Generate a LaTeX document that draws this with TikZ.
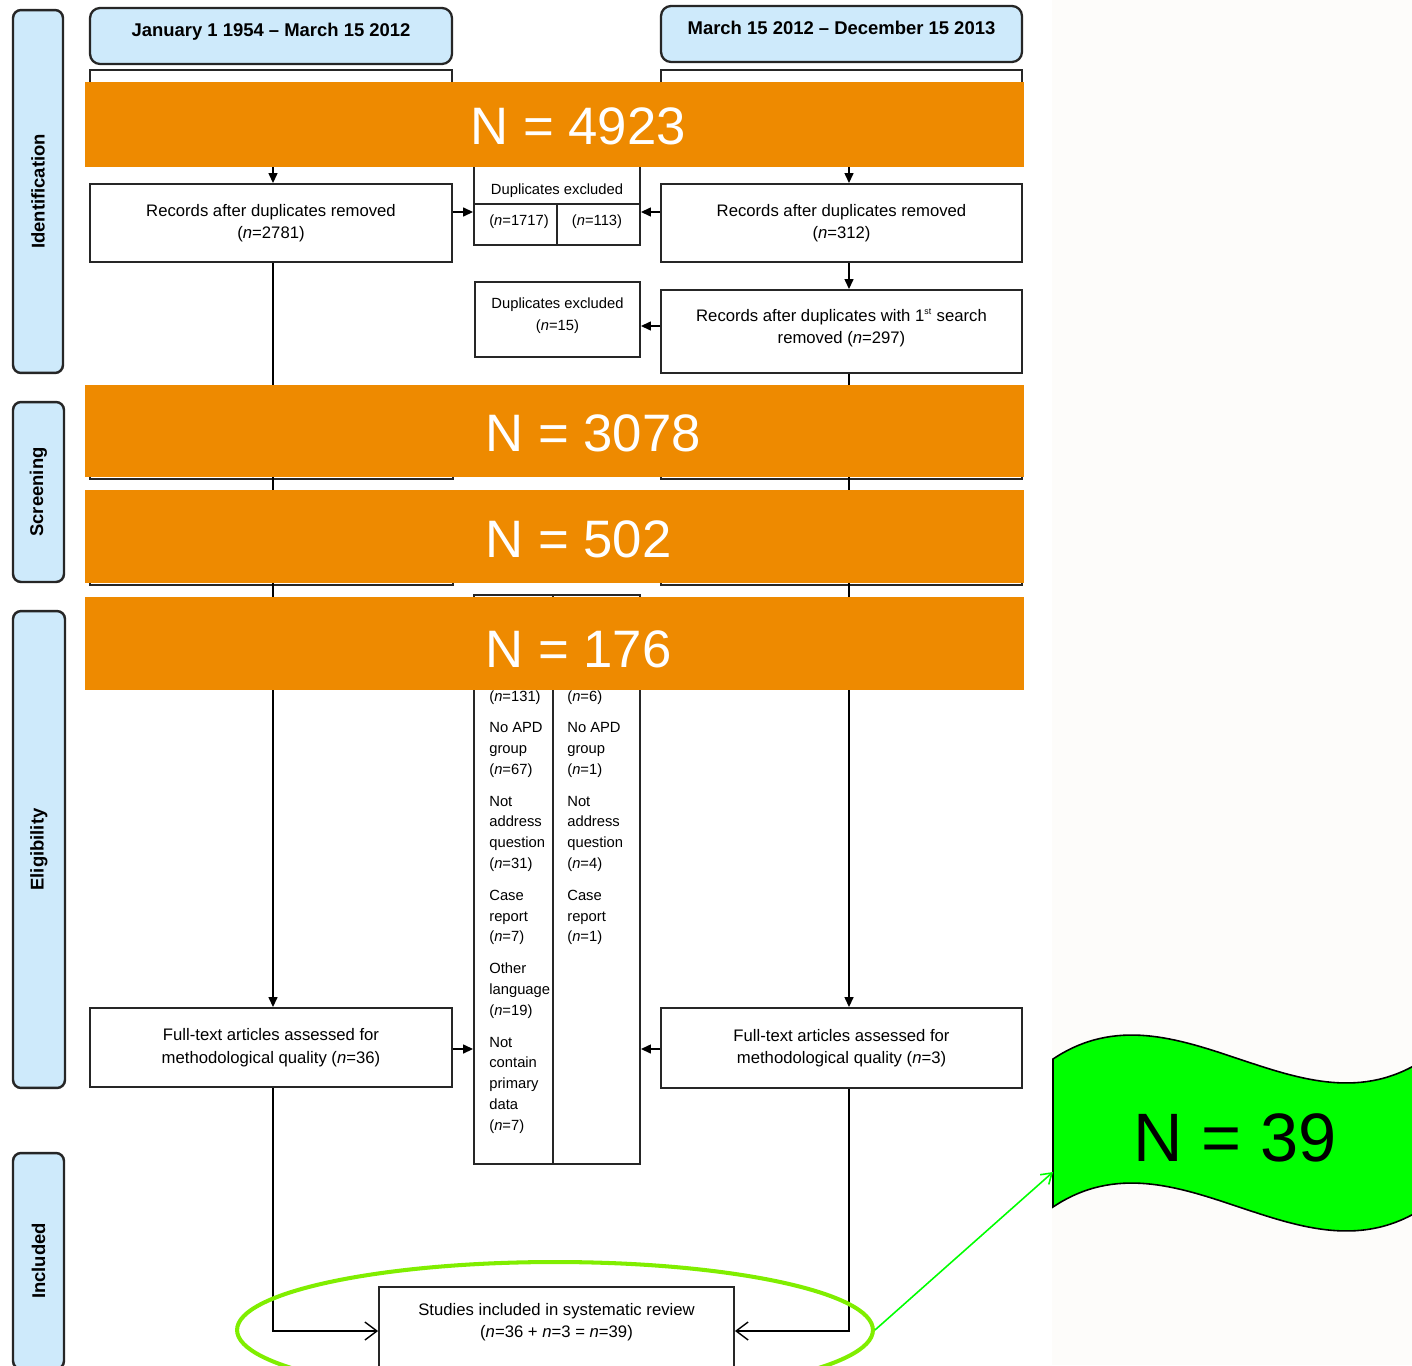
\documentclass[tikz,border=0pt]{standalone}
\usepackage{fontspec}
\setmainfont{Liberation Sans}
\usetikzlibrary{arrows.meta,shapes.geometric}
\definecolor{orng}{RGB}{238,138,0}
\definecolor{lblue}{RGB}{206,234,251}
\definecolor{ellgreen}{RGB}{128,238,0}
\definecolor{flaggreen}{RGB}{0,255,0}
\definecolor{offwhite}{RGB}{253,252,250}
\begin{document}
\begin{tikzpicture}[x=0.02cm,y=-0.02cm,
  box/.style={draw=black!85, line width=1.1pt, fill=white, inner sep=0pt, align=center, font=\fontsize{9.5}{12.8}\selectfont},
  hdr/.style={draw=black!85, line width=1.3pt, fill=lblue, rounded corners=0.2cm, inner sep=0pt, font=\bfseries\fontsize{10.5}{12}\selectfont, text depth=0.25cm},
  side/.style={draw=black!85, line width=1.4pt, fill=lblue, rounded corners=0.16cm, inner sep=0pt, rotate=90, font=\bfseries\fontsize{10.5}{12}\selectfont},
  small/.style={inner sep=0pt, font=\fontsize{8.4}{11.85}\selectfont},
  arr/.style={line width=0.8pt, -{Triangle[length=0.2cm,width=0.18cm]}},
  oarr/.style={line width=0.8pt, -{Straight Barb[length=0.24cm,width=0.36cm]}},
  band/.style={fill=orng},
  bandtxt/.style={text=white, inner sep=0pt, anchor=west, font=\fontsize{30}{30}\selectfont},
]
\useasboundingbox (0,0) rectangle (1412,1365);
\clip (0,0) rectangle (1412,1365);
\fill[white] (0,0) rectangle (1412,1365);
\fill[offwhite] (1052,0) rectangle (1412,1365);

% coordinates for connector lines
\coordinate (lx) at (273,0);
\coordinate (rx) at (849,0);
\coordinate (ya) at (0,212);
\coordinate (yb) at (0,326);
\coordinate (yc) at (0,1049);
\coordinate (yd) at (0,1331);
\coordinate (yh) at (0,204);
\coordinate (dxa) at (557,0);
\coordinate (dxb) at (553,0);

% side labels
\node[side, minimum width=7.26cm, minimum height=1.0cm] (sId) at (38,191.5) {Identification};
\node[side, minimum width=3.6cm, minimum height=1.02cm] (sSc) at (38.5,492) {Screening};
\node[side, minimum width=9.54cm, minimum height=1.04cm] (sEl) at (39,849.5) {Eligibility};
\node[side, minimum width=4.32cm, minimum height=1.02cm] (sIn) at (38.5,1261) {Included};

% headers
\node[hdr, minimum width=7.24cm, minimum height=1.12cm] (hdrL) at (271,36) {January 1 1954 -- March 15 2012};
\node[hdr, minimum width=7.22cm, minimum height=1.12cm] (hdrR) at (841.5,34) {March 15 2012 -- December 15 2013};

% boxes
\node[box, minimum width=7.24cm, minimum height=1.8cm] (srcL) at (271,115) {};
\node[box, minimum width=7.22cm, minimum height=1.8cm] (srcR) at (841.5,115) {};
\node[box, minimum width=7.24cm, minimum height=1.56cm] (recL) at (271,223) {Records after duplicates removed\\(\textit{n}=2781)};
\node[box, minimum width=7.22cm, minimum height=1.56cm] (recR) at (841.5,223) {Records after duplicates removed\\(\textit{n}=312)};
\node[box, minimum width=7.22cm, minimum height=1.66cm, text depth=0.2cm] (rec2R) at (841.5,331.5) {Records after duplicates with 1\textsuperscript{\fontsize{5}{5}\selectfont st} search\\removed (\textit{n}=297)};
\node[box, minimum width=3.32cm, minimum height=1.9cm] (dup1) at (557,197.5) {};
\node[small] (dup1t) at (557,191) {Duplicates excluded};
\node[small] (dup1a) at (519,221.5) {(\textit{n}=1717)};
\node[small] (dup1b) at (597,221.5) {(\textit{n}=113)};
\draw[line width=1.1pt, draw=black!85] (dup1.west |- yh) -- (dup1.east |- yh);
\draw[line width=1.1pt, draw=black!85] (dxa |- yh) -- (dxa |- dup1.south);
\node[box, minimum width=3.3cm, minimum height=1.5cm, text depth=0.2cm, font=\fontsize{8.4}{12.5}\selectfont] (dup2) at (557.5,319.5) {Duplicates excluded\\(\textit{n}=15)};

\node[box, minimum width=7.26cm, minimum height=1.74cm] (scrL) at (271.5,435.5) {};
\node[box, minimum width=7.22cm, minimum height=1.74cm] (scrR) at (841.5,435.5) {};
\node[box, minimum width=7.26cm, minimum height=1.8cm] (scr2L) at (271.5,540) {};
\node[box, minimum width=7.22cm, minimum height=1.8cm] (scr2R) at (841.5,540) {};

\node[box, minimum width=3.32cm, minimum height=11.38cm] (excl) at (557,879.5) {};
\draw[line width=1.1pt, draw=black!85] (dxb |- excl.north) -- (dxb |- excl.south);
\node[small, anchor=north west, align=left] (exL) at (489,690) {(\textit{n}=131)\\[6.2pt]No APD\\group\\(\textit{n}=67)\\[6.2pt]Not\\address\\question\\(\textit{n}=31)\\[6.2pt]Case\\report\\(\textit{n}=7)\\[6.2pt]Other\\language\\(\textit{n}=19)\\[6.2pt]Not\\contain\\primary\\data\\(\textit{n}=7)};
\node[small, anchor=north west, align=left] (exR) at (567,690) {(\textit{n}=6)\\[6.2pt]No APD\\group\\(\textit{n}=1)\\[6.2pt]Not\\address\\question\\(\textit{n}=4)\\[6.2pt]Case\\report\\(\textit{n}=1)};

\node[box, minimum width=7.24cm, minimum height=1.58cm] (ftL) at (271,1047.5) {Full-text articles assessed for\\methodological quality (\textit{n}=36)};
\node[box, minimum width=7.22cm, minimum height=1.6cm] (ftR) at (841.5,1048) {Full-text articles assessed for\\methodological quality (\textit{n}=3)};

\node[box, minimum width=7.1cm, minimum height=1.76cm] (incl) at (556.5,1331) {};
\node[box, draw=none, fill=none] (incltxt) at (556.5,1322) {Studies included in systematic review\\(\textit{n}=36 + \textit{n}=3 = \textit{n}=39)};

% connectors
\draw[arr] (srcL.south -| lx) -- (recL.north -| lx);
\draw[arr] (srcR.south -| rx) -- (recR.north -| rx);
\draw[arr] (recL.east |- ya) -- (dup1.west |- ya);
\draw[arr] (recR.west |- ya) -- (dup1.east |- ya);
\draw[arr] (recR.south -| rx) -- (rec2R.north -| rx);
\draw[arr] (rec2R.west |- yb) -- (dup2.east |- yb);
\draw[arr] (recL.south -| lx) -- (ftL.north -| lx);
\draw[arr] (rec2R.south -| rx) -- (ftR.north -| rx);
\draw[arr] (ftL.east |- yc) -- (excl.west |- yc);
\draw[arr] (ftR.west |- yc) -- (excl.east |- yc);
\draw[oarr] (ftL.south -| lx) |- (incl.west |- yd);
\draw[oarr] (ftR.south -| rx) |- (incl.east |- yd);

% orange bands
\fill[band] (85,82) rectangle (1024,167);
\node[bandtxt] (n1) at (470,126) {N = 4923};
\fill[band] (85,385) rectangle (1024,477);
\node[bandtxt] (n2) at (485,433) {N = 3078};
\fill[band] (85,490) rectangle (1024,583);
\node[bandtxt] (n3) at (485,539) {N = 502};
\fill[band] (85,597) rectangle (1024,690);
\node[bandtxt] (n4) at (485,649) {N = 176};

% green ellipse, arrow and flag
\node[draw=ellgreen, line width=2.3pt, ellipse, minimum width=12.72cm, minimum height=2.72cm, inner sep=0pt] (ell) at (555,1330) {};
\filldraw[fill=flaggreen, draw=black, line width=0.9pt] (1053,1059) .. controls (1177,976) and (1301,1142) .. (1425,1059) -- (1425,1207) .. controls (1301,1290) and (1177,1124) .. (1053,1207) -- cycle;
\coordinate (flagin) at (1053,1172);
\node[inner sep=0pt, font=\fontsize{39}{39}\selectfont] (n39) at (1235,1138) {N = 39};
\draw[flaggreen, line width=0.9pt, -{Straight Barb[length=0.2cm,width=0.26cm]}] (ell.east) -- (flagin);
\end{tikzpicture}
\end{document}
